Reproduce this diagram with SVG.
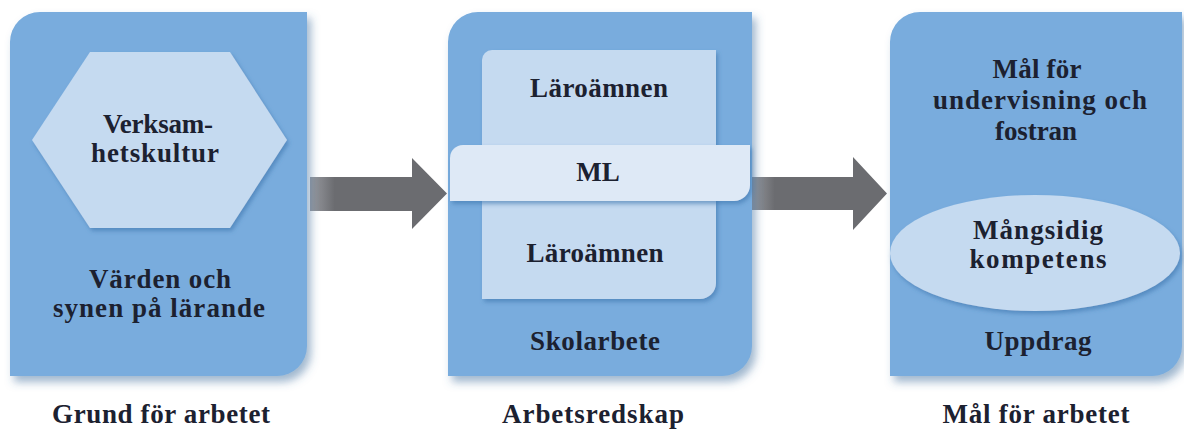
<svg xmlns="http://www.w3.org/2000/svg" width="1184" height="437" viewBox="0 0 1184 437">
  <defs>
    <filter id="panelShadow" x="-10%" y="-10%" width="130%" height="130%">
      <feDropShadow dx="4" dy="6" stdDeviation="4" flood-color="#3f6f9f" flood-opacity="0.5"/>
    </filter>
    <filter id="innerShadow" x="-10%" y="-10%" width="130%" height="130%">
      <feDropShadow dx="2" dy="3" stdDeviation="2" flood-color="#3d74ad" flood-opacity="0.6"/>
    </filter>
    <linearGradient id="shaftGrad" x1="0" y1="0" x2="1" y2="0">
      <stop offset="0" stop-color="#9a9ca2"/>
      <stop offset="0.18" stop-color="#6b6c70"/>
      <stop offset="1" stop-color="#6b6c70"/>
    </linearGradient>
  </defs>
  <style>
    .panel { fill: #79acdd; filter: url(#panelShadow); }
    .inner { fill: #c5daf0; filter: url(#innerShadow); }
    .band { fill: #dee9f6; filter: url(#innerShadow); }
    .arrow { fill: url(#shaftGrad); }
    .t { font-family: "Liberation Serif", "Times New Roman", serif; font-weight: bold; font-size: 27px; fill: #1c2130; text-anchor: middle; }
  </style>
  <rect x="0" y="0" width="1184" height="437" fill="#ffffff"/>

  <g id="connectors">
    <path class="arrow" d="M310 177 H412 V158 L447 193.5 L412 229 V211 H310 Z"/>
    <path class="arrow" d="M750 177 H853 V157 L887 193.5 L853 230 V210 H750 Z"/>
  </g>

  <g id="grund">
    <path class="panel" d="M40 12 H307 V346 A30 30 0 0 1 277 376 H10 V42 A30 30 0 0 1 40 12 Z"/>
    <g id="verksamhetskultur">
      <polygon class="inner" points="32,140 90,52 230,52 287,140 230,228 90,228"/>
      <text class="t" x="158" y="133" textLength="110" lengthAdjust="spacing">Verksam-</text>
      <text class="t" x="155" y="162" textLength="128" lengthAdjust="spacing">hetskultur</text>
    </g>
    <text class="t" x="160" y="288" textLength="142" lengthAdjust="spacing">Värden och</text>
    <text class="t" x="159" y="317" textLength="212" lengthAdjust="spacing">synen på lärande</text>
    <text class="t" x="161" y="423" textLength="218" lengthAdjust="spacing">Grund för arbetet</text>
  </g>

  <g id="arbetsredskap">
    <path class="panel" d="M478 12 H752 V346 A30 30 0 0 1 722 376 H448 V42 A30 30 0 0 1 478 12 Z"/>
    <g id="laroamnen">
      <path class="inner" d="M492 50 H716 V283 A16 16 0 0 1 700 299 H482 V60 A10 10 0 0 1 492 50 Z"/>
      <text class="t" x="599" y="97" textLength="138" lengthAdjust="spacing">Läroämnen</text>
      <text class="t" x="595" y="262" textLength="137" lengthAdjust="spacing">Läroämnen</text>
    </g>
    <g id="ml">
      <path class="band" d="M463 145 H750 V185 A16 16 0 0 1 734 201 H450 V158 A13 13 0 0 1 463 145 Z"/>
      <text class="t" x="598" y="181">ML</text>
    </g>
    <text class="t" x="595" y="350" textLength="130" lengthAdjust="spacing">Skolarbete</text>
    <text class="t" x="593" y="423" textLength="182" lengthAdjust="spacing">Arbetsredskap</text>
  </g>

  <g id="mal">
    <path class="panel" d="M920 12 H1182 V346 A30 30 0 0 1 1152 376 H890 V42 A30 30 0 0 1 920 12 Z"/>
    <text class="t" x="1037" y="78" textLength="89" lengthAdjust="spacing">Mål för</text>
    <text class="t" x="1040" y="109" textLength="214" lengthAdjust="spacing">undervisning och</text>
    <text class="t" x="1036" y="140" textLength="82" lengthAdjust="spacing">fostran</text>
    <g id="mangsidig-kompetens">
      <ellipse class="inner" cx="1035" cy="253" rx="145" ry="58"/>
      <text class="t" x="1038" y="239" textLength="130" lengthAdjust="spacing">Mångsidig</text>
      <text class="t" x="1038" y="268" textLength="137" lengthAdjust="spacing">kompetens</text>
    </g>
    <text class="t" x="1038" y="350" textLength="107" lengthAdjust="spacing">Uppdrag</text>
    <text class="t" x="1036" y="423" textLength="187" lengthAdjust="spacing">Mål för arbetet</text>
  </g>
</svg>
